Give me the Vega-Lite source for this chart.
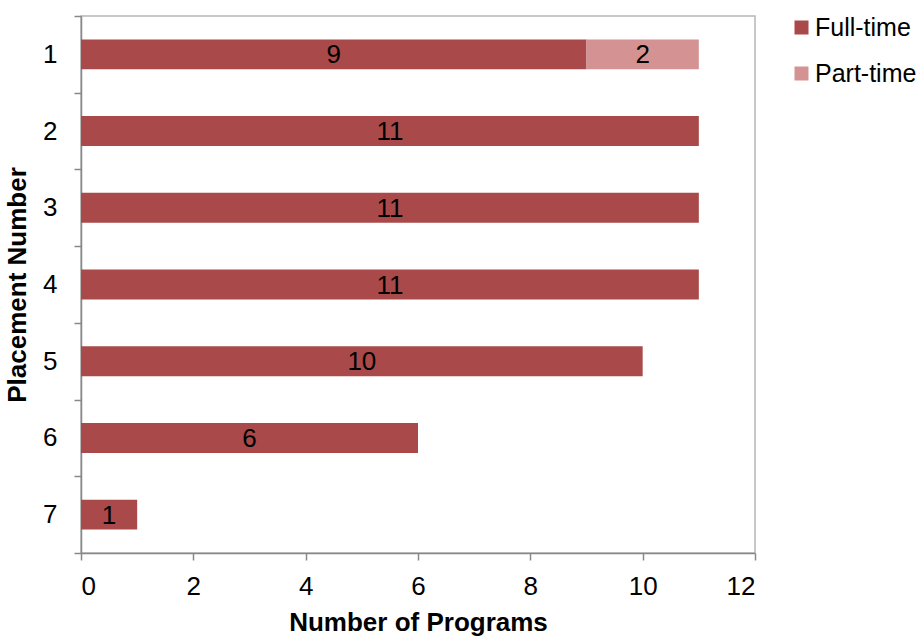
{
  "$schema": "https://vega.github.io/schema/vega-lite/v6.json",
  "width": 674,
  "height": 537,
  "autosize": {"type": "none"},
  "padding": {"left": 81, "top": 16, "right": 168, "bottom": 84},
  "background": "white",
  "config": {
    "font": "Liberation Sans",
    "view": {"stroke": "#b7b7b7", "strokeWidth": 1.5},
    "axis": {
      "labelFont": "Liberation Sans",
      "titleFont": "Liberation Sans",
      "labelFontSize": 26,
      "titleFontSize": 26,
      "titleFontWeight": "bold",
      "labelColor": "#000000",
      "titleColor": "#000000",
      "domainColor": "#888888",
      "domainWidth": 1.5,
      "tickColor": "#888888",
      "tickWidth": 1.5,
      "tickSize": 7,
      "grid": false
    },
    "legend": {
      "labelFont": "Liberation Sans",
      "labelFontSize": 25,
      "labelColor": "#000000"
    }
  },
  "data": {
    "values": [
      {"placement": "1", "type": "Full-time", "order": 1, "programs": 9},
      {"placement": "1", "type": "Part-time", "order": 2, "programs": 2},
      {"placement": "2", "type": "Full-time", "order": 1, "programs": 11},
      {"placement": "3", "type": "Full-time", "order": 1, "programs": 11},
      {"placement": "4", "type": "Full-time", "order": 1, "programs": 11},
      {"placement": "5", "type": "Full-time", "order": 1, "programs": 10},
      {"placement": "6", "type": "Full-time", "order": 1, "programs": 6},
      {"placement": "7", "type": "Full-time", "order": 1, "programs": 1}
    ]
  },
  "transform": [
    {"stack": "programs", "groupby": ["placement"], "sort": [{"field": "order", "order": "ascending"}], "as": ["start", "end"]},
    {"calculate": "(datum.start + datum.end) / 2", "as": "mid"}
  ],
  "layer": [
    {
      "mark": {"type": "bar", "height": {"band": 0.39}},
      "encoding": {
        "y": {
          "field": "placement",
          "type": "ordinal",
          "scale": {"paddingInner": 0, "paddingOuter": 0},
          "axis": {
            "title": "Placement Number",
            "tickBand": "extent",
            "labelPadding": 17,
            "titlePadding": 12
          }
        },
        "x": {
          "field": "start",
          "type": "quantitative",
          "scale": {"domain": [0, 12], "nice": false},
          "axis": {
            "title": "Number of Programs",
            "values": [0, 2, 4, 6, 8, 10, 12],
            "format": "d",
            "labelPadding": 13,
            "titlePadding": 10
          }
        },
        "x2": {"field": "end"},
        "color": {
          "field": "type",
          "type": "nominal",
          "scale": {"domain": ["Full-time", "Part-time"], "range": ["#a94949", "#d49292"]},
          "legend": {
            "title": null,
            "orient": "none",
            "legendX": 708,
            "legendY": -1,
            "padding": 0,
            "symbolType": "square",
            "symbolSize": 196,
            "symbolStrokeWidth": 0,
            "labelOffset": 1,
            "rowPadding": 20
          }
        }
      }
    },
    {
      "mark": {"type": "text", "fontSize": 26, "color": "#000000", "baseline": "middle", "align": "center", "dy": 1},
      "encoding": {
        "y": {"field": "placement", "type": "ordinal"},
        "x": {"field": "mid", "type": "quantitative"},
        "text": {"field": "programs", "type": "quantitative"}
      }
    }
  ]
}
